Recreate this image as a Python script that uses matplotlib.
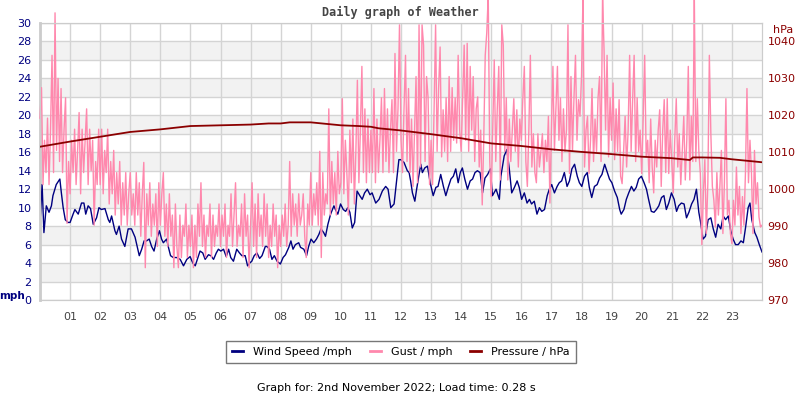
import numpy as np
import matplotlib
matplotlib.use("Agg")
import matplotlib.pyplot as plt
from matplotlib.lines import Line2D

# wind speed (mph), time in hours
wind_hours = [0.00, 0.07, 0.13, 0.21, 0.30, 0.38, 0.43, 0.54, 0.66, 0.71, 0.77, 0.84, 0.93,
              1.00, 1.10, 1.16, 1.27, 1.38, 1.46, 1.52, 1.60, 1.68, 1.77, 1.88, 1.96,
              2.04, 2.16, 2.27, 2.32, 2.38, 2.49, 2.54, 2.63, 2.71, 2.82, 2.93,
              3.04, 3.16, 3.23, 3.30, 3.38, 3.46, 3.54, 3.63, 3.71, 3.79, 3.88, 3.97,
              4.04, 4.10, 4.21, 4.27, 4.34, 4.43, 4.54, 4.66, 4.77, 4.88, 4.99,
              5.08, 5.16, 5.23, 5.32, 5.41, 5.49, 5.60, 5.68, 5.77, 5.86, 5.93,
              6.01, 6.10, 6.19, 6.27, 6.34, 6.43, 6.54, 6.63, 6.71, 6.82, 6.90, 6.97,
              7.04, 7.12, 7.21, 7.30, 7.38, 7.49, 7.54, 7.63, 7.71, 7.79, 7.88, 7.99,
              8.08, 8.16, 8.27, 8.34, 8.41, 8.49, 8.60, 8.66, 8.77, 8.86, 8.93,
              9.01, 9.10, 9.19, 9.27, 9.34, 9.43, 9.49, 9.57, 9.66, 9.77, 9.82, 9.90,
              9.99, 10.08, 10.16, 10.23, 10.30, 10.38, 10.46, 10.54, 10.63, 10.71, 10.79, 10.88,
              10.97, 11.04, 11.16, 11.27, 11.38, 11.49, 11.57, 11.66, 11.77, 11.86, 11.93,
              11.99, 12.10, 12.21, 12.27, 12.32, 12.38, 12.46, 12.52, 12.60, 12.66, 12.71, 12.79, 12.88, 12.97,
              13.07, 13.16, 13.23, 13.32, 13.41, 13.49, 13.57, 13.66, 13.74, 13.82, 13.90, 13.97,
              14.04, 14.12, 14.21, 14.30, 14.38, 14.46, 14.54, 14.63, 14.71, 14.79, 14.88, 14.97,
              15.04, 15.16, 15.27, 15.32, 15.43, 15.52, 15.60, 15.68, 15.77, 15.86, 15.93,
              16.01, 16.10, 16.19, 16.27, 16.34, 16.43, 16.52, 16.60, 16.68, 16.77, 16.86, 16.93,
              17.01, 17.10, 17.19, 17.26, 17.34, 17.43, 17.52, 17.60, 17.68, 17.77, 17.86, 17.93,
              18.01, 18.10, 18.19, 18.26, 18.34, 18.43, 18.52, 18.60, 18.68, 18.77, 18.86, 18.93,
              19.01, 19.10, 19.19, 19.27, 19.32, 19.41, 19.49, 19.57, 19.66, 19.74, 19.82, 19.90,
              19.99, 20.08, 20.16, 20.23, 20.32, 20.41, 20.49, 20.57, 20.66, 20.74, 20.82, 20.90,
              20.99, 21.08, 21.16, 21.23, 21.32, 21.41, 21.49, 21.57, 21.66, 21.74, 21.82, 21.90, 21.96,
              22.04, 22.12, 22.21, 22.30, 22.38, 22.46, 22.54, 22.63, 22.71, 22.79, 22.88, 22.96,
              23.04, 23.12, 23.21, 23.30, 23.38, 23.46, 23.54, 23.60, 23.66, 23.76, 23.83, 23.91, 24.00]
wind_mph = [8.4, 12.5, 7.3, 10.2, 9.5, 10.2, 11.3, 12.5, 13.1, 11.6, 10.0, 8.7, 8.4,
            8.4, 9.3, 9.8, 9.3, 10.5, 10.5, 9.3, 10.2, 9.9, 8.2, 8.9, 10.0,
            9.8, 9.9, 8.7, 8.4, 9.1, 7.5, 7.1, 8.0, 6.6, 5.8, 7.7,
            7.7, 6.8, 5.8, 4.8, 5.5, 6.4, 6.4, 6.6, 5.8, 5.3, 6.6, 7.5,
            6.6, 6.2, 6.6, 5.7, 4.8, 4.6, 4.6, 4.4, 3.7, 4.4, 4.7,
            4.0, 3.7, 4.4, 5.3, 5.1, 4.4, 4.9, 4.8, 4.4, 5.1, 5.5,
            5.3, 5.5, 4.7, 5.5, 4.6, 4.2, 5.5, 5.1, 4.8, 4.8, 3.7, 4.0,
            4.2, 4.8, 5.1, 4.5, 4.8, 5.8, 5.8, 5.5, 4.4, 4.8, 4.2, 3.9,
            4.6, 4.9, 5.7, 6.4, 5.5, 6.0, 6.2, 5.7, 5.5, 4.8, 5.8,
            6.6, 6.2, 6.6, 7.1, 7.7, 7.3, 6.9, 8.2, 9.3, 10.2, 9.8, 9.3,
            10.4, 9.8, 9.6, 10.0, 9.5, 7.8, 8.4, 11.8, 11.3, 10.9, 11.6, 12.0,
            11.4, 11.6, 10.5, 10.9, 11.8, 12.3, 12.0, 10.0, 10.4, 13.1, 15.2,
            15.2, 14.9, 14.0, 13.8, 12.9, 11.6, 10.7, 12.0, 13.6, 14.7, 13.8, 14.3, 14.5, 12.7,
            11.3, 12.2, 12.3, 13.6, 12.3, 11.3, 12.2, 13.1, 13.4, 14.2, 12.7, 13.8,
            14.3, 13.1, 12.0, 12.9, 13.1, 13.8, 14.0, 13.8, 11.6, 13.2, 13.6, 14.2,
            11.3, 12.0, 10.9, 13.4, 15.6, 16.3, 14.2, 11.6, 12.2, 12.9, 12.2,
            10.9, 11.6, 10.5, 10.9, 10.4, 10.7, 9.3, 10.0, 9.6, 9.8, 11.3, 12.0,
            12.5, 11.6, 12.3, 12.7, 12.9, 13.8, 12.3, 12.9, 14.2, 14.7, 13.4, 12.7,
            12.3, 13.4, 13.8, 12.2, 11.1, 12.3, 12.5, 13.2, 13.6, 14.7, 13.8, 13.1,
            12.7, 11.8, 11.1, 9.8, 9.3, 9.8, 10.9, 11.6, 12.3, 11.8, 12.2, 13.1,
            13.4, 12.7, 12.0, 10.9, 9.6, 9.5, 9.8, 10.2, 11.1, 11.3, 9.8, 10.5,
            11.6, 10.9, 9.6, 10.2, 10.5, 10.4, 8.9, 9.5, 10.4, 10.9, 12.0, 9.5, 8.4,
            6.6, 6.9, 8.7, 8.9, 7.7, 6.8, 8.2, 7.7, 9.1, 8.7, 9.1, 7.5,
            6.6, 6.0, 6.0, 6.4, 6.2, 8.0, 10.0, 10.5, 8.7, 7.3, 6.8, 6.0, 5.2]

# gust (mph), one reading every 3 minutes (20 per hour)
gust_mph = [
    19.7, 23.0, 12.5, 17.3, 13.8, 19.7, 12.5, 18.5, 26.5, 13.8, 31.1, 16.2, 24.0, 15.0, 22.9, 13.8, 18.5, 21.9, 8.3, 15.0,
    11.5, 17.3, 13.8, 18.5, 12.5, 16.2, 20.3, 11.5, 18.5, 13.8, 17.3, 20.7, 12.5, 18.5, 14.0, 17.3, 8.1, 15.0, 12.5, 18.5,
    12.5, 18.5, 11.5, 16.2, 13.8, 18.5, 10.4, 15.0, 11.5, 16.2, 9.2, 13.8, 10.4, 15.0, 8.1, 12.7, 9.2, 13.8, 8.1, 11.5,
    13.8, 9.2, 11.5, 8.1, 13.8, 9.2, 12.7, 6.9, 11.5, 14.9, 3.5, 11.5, 8.1, 12.7, 6.9, 10.4, 8.1, 11.5, 5.8, 12.7,
    8.1, 11.5, 13.8, 6.9, 10.4, 5.8, 11.5, 6.9, 9.2, 3.5, 10.4, 5.8, 3.5, 9.2, 4.6, 8.1, 6.9, 10.4, 4.6, 8.1,
    5.8, 9.2, 3.5, 8.1, 4.6, 10.4, 6.9, 12.7, 5.8, 9.2, 4.6, 8.1, 6.9, 10.4, 4.6, 9.2, 5.8, 8.1, 6.9, 10.4,
    5.8, 9.2, 6.9, 10.4, 4.6, 8.1, 6.9, 11.5, 5.8, 9.2, 12.7, 5.8, 8.1, 6.9, 10.4, 4.6, 11.5, 6.9, 9.2, 3.5,
    8.1, 12.7, 5.8, 10.4, 4.6, 11.5, 6.9, 9.2, 5.8, 11.5, 6.9, 10.4, 4.6, 8.1, 5.8, 10.4, 6.9, 9.2, 3.5, 8.1,
    5.8, 9.2, 6.9, 10.4, 5.8, 8.1, 15.0, 6.9, 11.5, 8.1, 10.4, 6.9, 11.5, 8.1, 9.2, 11.5, 6.9, 4.6, 10.4, 8.1,
    13.8, 8.1, 11.5, 9.2, 12.7, 8.1, 16.1, 4.6, 13.8, 9.2, 11.5, 10.4, 20.7, 9.2, 15.0, 10.4, 13.8, 9.2, 16.1, 11.5,
    12.7, 21.8, 11.5, 17.3, 13.8, 9.2, 18.4, 12.7, 19.6, 10.4, 16.1, 23.8, 12.7, 18.4, 25.3, 13.8, 20.7, 12.7, 19.6, 13.8,
    18.4, 13.8, 22.9, 12.7, 19.6, 13.8, 17.3, 21.9, 13.8, 22.9, 15.0, 20.7, 13.8, 18.4, 21.7, 13.8, 26.7, 16.1, 20.7, 29.8,
    17.3, 13.8, 20.7, 26.5, 15.0, 22.9, 13.8, 19.6, 12.3, 18.4, 24.2, 12.7, 29.8, 14.4, 29.8, 27.6, 15.0, 24.2, 21.9, 12.5,
    17.3, 12.5, 20.7, 29.8, 16.1, 22.9, 27.4, 15.5, 20.6, 16.1, 21.9, 15.0, 24.2, 16.1, 23.0, 17.3, 21.9, 17.0, 26.5, 18.4,
    16.1, 21.9, 27.6, 17.3, 27.8, 16.1, 25.3, 18.4, 24.2, 15.0, 20.7, 22.0, 14.4, 18.4, 10.3, 17.3, 26.5, 28.9, 33.0, 15.0,
    11.2, 18.4, 26.0, 15.0, 20.7, 25.3, 13.0, 29.8, 27.6, 16.1, 21.9, 13.0, 19.6, 15.0, 18.4, 21.8, 16.1, 20.6, 14.4, 19.6,
    17.3, 21.8, 25.3, 15.0, 12.3, 18.4, 26.5, 14.4, 18.0, 13.8, 12.7, 18.0, 14.4, 16.1, 18.0, 13.8, 17.3, 15.0, 19.9, 10.5,
    18.4, 25.3, 16.2, 20.7, 25.3, 17.3, 21.9, 15.0, 20.7, 16.1, 18.4, 29.8, 13.7, 24.2, 16.1, 21.9, 26.5, 17.3, 21.7, 19.9,
    24.2, 33.0, 14.4, 18.4, 19.9, 13.7, 17.3, 22.9, 15.0, 19.6, 16.1, 21.9, 24.2, 15.0, 33.0, 27.0, 18.4, 26.5, 15.5, 21.9,
    17.3, 23.5, 15.2, 20.7, 16.1, 21.7, 13.4, 12.6, 16.1, 19.9, 14.4, 18.4, 26.5, 16.1, 21.7, 26.5, 15.0, 21.9, 16.1, 18.4,
    13.7, 19.6, 26.5, 15.5, 17.3, 12.7, 19.6, 14.4, 11.6, 17.3, 14.4, 18.4, 20.6, 12.3, 18.4, 21.7, 13.8, 21.8, 13.7, 18.4,
    15.0, 11.6, 17.3, 21.8, 14.4, 18.0, 12.5, 16.2, 19.9, 13.0, 17.3, 25.3, 13.0, 19.9, 15.0, 33.0, 15.0, 21.8, 16.1, 13.7,
    6.0, 11.5, 15.2, 7.2, 12.7, 26.5, 18.0, 12.3, 10.8, 7.9, 13.8, 9.2, 12.3, 16.2, 7.2, 12.7, 21.8, 9.2, 10.8, 7.2,
    6.1, 10.8, 8.1, 14.4, 9.2, 12.3, 7.2, 11.2, 8.1, 13.8, 22.9, 12.7, 17.3, 13.8, 7.2, 16.2, 10.4, 12.7, 9.0, 7.9,
    8.1]
gust_hours = np.arange(len(gust_mph)) / 20.0

# pressure (hPa)
pressure_hours = [0, 1, 2, 3, 4, 5, 6, 7, 7.6, 8, 8.3, 9, 9.5, 10, 10.6, 11, 11.25, 12,
                  13, 14, 15, 16, 17, 18, 19, 20, 21, 21.6, 21.7, 22, 22.6, 23, 24]
pressure_hpa = [1011.5, 1012.9, 1014.2, 1015.5, 1016.2, 1017.1, 1017.3, 1017.5, 1017.8, 1017.8,
                1018.1, 1018.1, 1017.7, 1017.3, 1017.1, 1016.9, 1016.5, 1015.9,
                1014.9, 1013.8, 1012.4, 1011.7, 1010.8, 1010.1, 1009.5, 1008.8, 1008.4,
                1007.9, 1008.6, 1008.6, 1008.5, 1008.1, 1007.3]

hour_labels = ["%02d" % h for h in range(1, 24)]

NAVY = "#000080"
PINK = "#ff88ad"
DARKRED = "#8b0000"
GRID = "#d4d4d4"

fig = plt.figure(figsize=(8, 4), dpi=100)
ax = fig.add_axes([0.05, 0.25, 0.9025, 0.6925])

# alternating light grey bands
for lo in range(2, 30, 4):
    ax.axhspan(lo, lo + 2, color="#f2f2f2", zorder=0, lw=0)

ax.plot(wind_hours, wind_mph, color=NAVY, lw=1.0, zorder=3)
ax.plot(gust_hours, gust_mph, color=PINK, lw=1.0, zorder=4, clip_on=False)

ax.set_xlim(0, 24)
ax.set_ylim(0, 30)
ax.set_yticks(range(0, 31, 2))
ax.set_xticks(range(1, 24))
ax.set_xticklabels(hour_labels)
ax.grid(True, color=GRID, lw=1, zorder=1)
ax.set_axisbelow(True)
ax.tick_params(axis="y", colors=NAVY, labelsize=8, length=0, pad=6)
ax.tick_params(axis="x", colors="#444444", labelsize=8, length=0, pad=9)
for s in ax.spines.values():
    s.set_color("#cccccc")
ax.spines["left"].set_linewidth(2)

ax2 = ax.twinx()
ax2.plot(pressure_hours, pressure_hpa, color=DARKRED, lw=1.3, zorder=5)
ax2.set_ylim(970, 1045)
ax2.set_yticks(range(970, 1041, 10))
ax2.tick_params(axis="y", colors=DARKRED, labelsize=8, length=0, pad=4)
for s in ax2.spines.values():
    s.set_color("#cccccc")

fig.text(0.5, 1 - 12 / 400, "Daily graph of Weather", ha="center", va="center",
         family="DejaVu Sans Mono", weight="bold", color="#444444", fontsize=8.5)
fig.text(12.5 / 800, 1 - 296 / 400, "mph", ha="center", va="center",
         weight="bold", color=NAVY, fontsize=7.5)
fig.text(783 / 800, 1 - 30 / 400, "hPa", ha="center", va="center",
         color=DARKRED, fontsize=8)

handles = [Line2D([], [], color=NAVY, lw=2),
           Line2D([], [], color=PINK, lw=2),
           Line2D([], [], color=DARKRED, lw=2)]
leg = fig.legend(handles, ["Wind Speed /mph", "Gust / mph", "Pressure / hPa"],
                 loc="center", bbox_to_anchor=(401 / 800, 1 - 352 / 400), ncol=3,
                 fontsize=8, handlelength=1.0, columnspacing=1.6, handletextpad=0.9,
                 fancybox=False, edgecolor="#777777", framealpha=1, borderpad=0.5)
leg.get_frame().set_linewidth(1)

fig.text(396 / 800, 1 - 388 / 400, "Graph for: 2nd November 2022; Load time: 0.28 s",
         ha="center", va="center", color="black", fontsize=8)

fig.savefig("out.png", dpi=100)
